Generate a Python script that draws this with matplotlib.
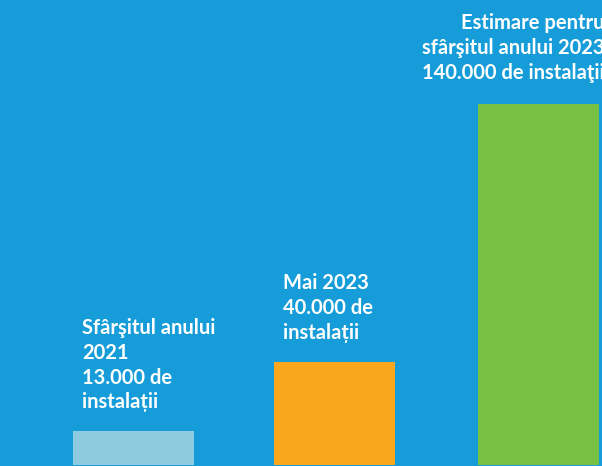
"""Instalații - grafic cu bare pe fundal albastru."""
import matplotlib
matplotlib.use("Agg")
import matplotlib.pyplot as plt

labels = ["Sfârşitul anului\n2021\n13.000 de\ninstalații",
          "Mai 2023\n40.000 de\ninstalații",
          "Estimare pentru\nsfârşitul anului 2023\n140.000 de instalaţii"]
values = [13000, 40000, 140000]
colors = ["#8fcbde", "#f9a81e", "#78c143"]
bg = "#169dd9"

fig = plt.figure(figsize=(6.02, 4.66), dpi=100, facecolor=bg)
ax = fig.add_axes([0, 0, 1, 1], facecolor=bg)

pos = [0, 1, 2.015]
width = 0.602
ax.bar(pos, values, width=width, color=colors)

ax.set_xlim(-0.664, 2.331)
ax.set_ylim(-400, 180200)
ax.axis("off")

font = dict(family=["Lato", "DejaVu Sans"], weight="bold", size=14.5,
            color="white", linespacing=1.3)
for i in range(2):
    ax.annotate(labels[i], xy=(pos[i] - width / 2, values[i]),
                xytext=(9, 19), textcoords="offset pixels",
                ha="left", va="bottom", **font)
# le dernier texte dépasse à droite, comme dans l'original
ax.annotate(labels[2], xy=(pos[2] + width / 2, values[2]),
            xytext=(6, 21), textcoords="offset pixels",
            ha="right", va="bottom", multialignment="right",
            annotation_clip=False, **font)

fig.savefig("out.png", dpi=100, facecolor=bg)
